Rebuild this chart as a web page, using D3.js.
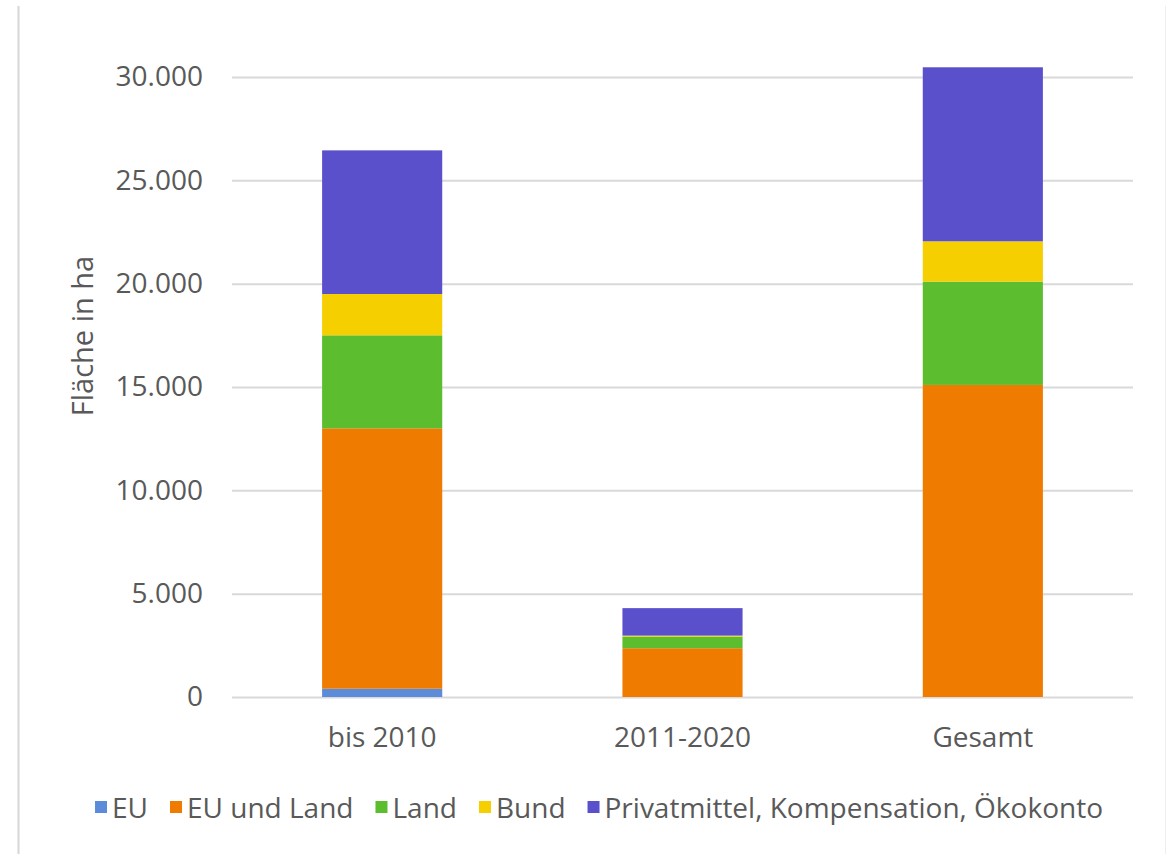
<!DOCTYPE html>
<html><head><meta charset="utf-8">
<script src="https://cdn.jsdelivr.net/npm/d3@7"></script>
<style>body{margin:0;background:#fff;}svg{display:block;}text{font-family:"Open Sans",sans-serif;fill:#595959;}</style>
</head><body>
<svg id="c" width="1168" height="854"></svg>
<script>
const categories = ["bis 2010", "2011-2020", "Gesamt"];
const seriesNames = ["EU", "EU und Land", "Land", "Bund", "Privatmittel, Kompensation, Ökokonto"];
const seriesColors = ["#5b8bd9", "#ef7b00", "#5cbd2e", "#f5cf00", "#5b50cb"];
const valEU = [400, 0, 0];
const valEUundLand = [12600, 2360, 15100];
const valLand = [4500, 560, 5000];
const valBund = [2000, 50, 1950];
const valPrivat = [6950, 1330, 8420];
const yTicks = [0, 5000, 10000, 15000, 20000, 25000, 30000];
const yLabel = "Fläche in ha";

(function () {
const seriesVals = [valEU, valEUundLand, valLand, valBund, valPrivat];
const table = categories.map((c, i) => {
  const o = {cat: c};
  seriesNames.forEach((s, j) => o[s] = seriesVals[j][i]);
  return o;
});
const stack = d3.stack().keys(seriesNames)(table);

const svg = d3.select("#c");
const mLeft = 232, mRight = 1133, mTop = 77, mBottom = 697;
const x = d3.scaleBand().domain(categories).range([mLeft, mRight]).paddingInner(0.6).paddingOuter(0.3);
const y = d3.scaleLinear().domain([0, 30000]).range([mBottom, mTop]);

// frame lines
svg.append("line").attr("x1", 18.5).attr("x2", 18.5).attr("y1", 6).attr("y2", 854).attr("stroke", "#d6d6d6").attr("stroke-width", 2);
svg.append("line").attr("x1", 1165.5).attr("x2", 1165.5).attr("y1", 6).attr("y2", 854).attr("stroke", "#eeeeee").attr("stroke-width", 1);

const fmt = d3.format(",.0f");
const de = v => fmt(v).replace(/,/g, ".");

// grid
const yAxis = d3.axisLeft(y).tickValues(yTicks).tickSize(-(mRight - mLeft)).tickFormat(de).tickPadding(29);
const ga = svg.append("g").attr("transform", `translate(${mLeft},0)`).call(yAxis);
ga.select(".domain").remove();
ga.selectAll(".tick line").attr("stroke", "#d9d9d9").attr("stroke-width", 2);
ga.selectAll(".tick text").attr("font-size", 28).attr("fill", "#595959").style("font-family", '"Open Sans",sans-serif');

// bars
svg.append("g").selectAll("g").data(stack).join("g").attr("fill", (d, i) => seriesColors[i])
  .selectAll("rect").data(d => d).join("rect")
  .attr("x", d => x(d.data.cat)).attr("width", x.bandwidth())
  .attr("y", d => y(d[1])).attr("height", d => y(d[0]) - y(d[1]));

// x axis labels
const xa = d3.axisBottom(x).tickSize(0).tickPadding(30);
const gx = svg.append("g").attr("transform", `translate(0,${mBottom})`).call(xa);
gx.select(".domain").remove();
gx.selectAll(".tick text").attr("font-size", 28).attr("fill", "#595959").style("font-family", '"Open Sans",sans-serif');

// y label
svg.append("text").attr("transform", `translate(93,336) rotate(-90)`).attr("text-anchor", "middle")
  .attr("font-size", 29).text(yLabel);

// legend
const lg = svg.append("g");
let lx = 0;
seriesNames.forEach((s, i) => {
  const g = lg.append("g").attr("transform", `translate(${lx},0)`);
  g.append("rect").attr("x", 0).attr("y", -7).attr("width", 12).attr("height", 12).attr("fill", seriesColors[i]);
  const t = g.append("text").attr("x", 17).attr("y", 0).attr("dy", "0.35em").attr("font-size", 28).text(s);
  lx += 17 + t.node().getComputedTextLength() + 22;
});
lx -= 22;
lg.attr("transform", `translate(${(93 + 1105) / 2 - lx / 2},808)`);
})();
</script>
</body></html>
